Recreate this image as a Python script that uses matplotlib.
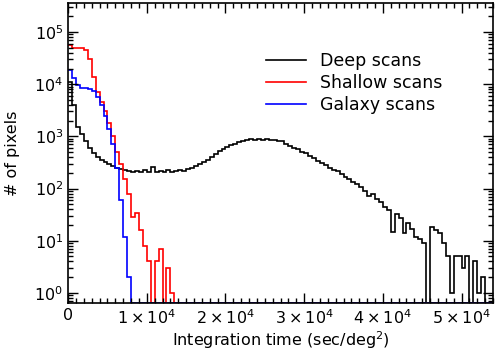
import numpy as np
import matplotlib
matplotlib.use('Agg')
import matplotlib.pyplot as plt
from matplotlib.ticker import FuncFormatter, LogLocator, MultipleLocator

# histogram bins: 500 sec/deg^2 wide, starting at 0
bin_width = 500
deep = [11000, 4000, 1500, 1100, 800, 600, 480, 400, 360, 320,
        300, 270, 250, 240, 230, 220, 210, 218, 205, 225,
        212, 260, 210, 215, 205, 222, 210, 215, 225, 220,
        235, 245, 270, 290, 320, 350, 400, 450, 520, 560,
        620, 690, 720, 780, 800, 850, 880, 860, 900, 870,
        880, 850, 860, 830, 800, 720, 660, 610, 560, 500,
        470, 420, 390, 340, 310, 280, 250, 230, 215, 190,
        170, 150, 135, 120, 105, 90, 72, 80, 62, 55,
        45, 38, 15, 33, 27, 14, 22, 17, 12, 11,
        9, 0, 18, 16, 14, 9, 5, 1, 5, 5,
        3, 5, 0, 4, 1, 2, 0, 0]
shallow = [56000, 49000, 49000, 49000, 45000, 30000, 14000, 7000, 4500, 3000,
           1800, 1000, 500, 300, 150, 80, 28, 34, 16, 8,
           4, 0, 4, 7, 0, 3, 1]
galaxy = [19000, 13000, 9500, 8500, 8300, 8000, 7300, 5800, 4000, 2500,
          1400, 700, 250, 60, 12, 2]

labels = ['Deep scans', 'Shallow scans', 'Galaxy scans']
colors = ['black', 'red', 'blue']

ymin, ymax = 0.64, 3.6e5
xmax = 54000

plt.rcParams['font.family'] = 'DejaVu Sans'
plt.rcParams['mathtext.default'] = 'regular'
fig = plt.figure(figsize=(4.97, 3.56), dpi=100)
ax = fig.add_axes([0.137, 0.149, 0.855, 0.8425])

n = len(deep)
edges = np.arange(n + 1) * bin_width
for vals, lab, col in zip([deep, shallow, galaxy], labels, colors):
    v = np.zeros(n)
    v[:len(vals)] = vals
    # empty bins drop to the bottom of the plot
    v = np.where(v > 0, v, ymin)
    ax.stairs(v, edges, color=col, lw=1.2, label=lab, baseline=None)

ax.set_yscale('log')
ax.set_xlim(0, xmax)
ax.set_ylim(ymin, ymax)

def xfmt(x, pos):
    if x == 0:
        return '0'
    return r'$%d\times10^{4}$' % round(x / 1e4)

ax.xaxis.set_major_locator(MultipleLocator(10000))
ax.xaxis.set_minor_locator(MultipleLocator(1000))
ax.xaxis.set_major_formatter(FuncFormatter(xfmt))
ax.yaxis.set_major_locator(LogLocator(base=10, numticks=10))
ax.yaxis.set_minor_locator(LogLocator(base=10, subs=np.arange(2, 10), numticks=20))

ax.tick_params(which='both', direction='in', top=True, right=True, labelsize=11.5, width=1)
ax.tick_params(which='major', length=7)
ax.tick_params(which='minor', length=3.5)
for s in ax.spines.values():
    s.set_linewidth(1.2)

ax.set_xlabel(r'Integration time (sec/deg$^2$)', fontsize=11.5, labelpad=2)
ax.set_ylabel('# of pixels', fontsize=11.5, labelpad=10)

ax.legend(loc='upper left', bbox_to_anchor=(0.428, 0.89), frameon=False,
          fontsize=12.5, handlelength=2.3, labelspacing=0.25, handletextpad=0.86)

fig.savefig('out.png', dpi=100)
